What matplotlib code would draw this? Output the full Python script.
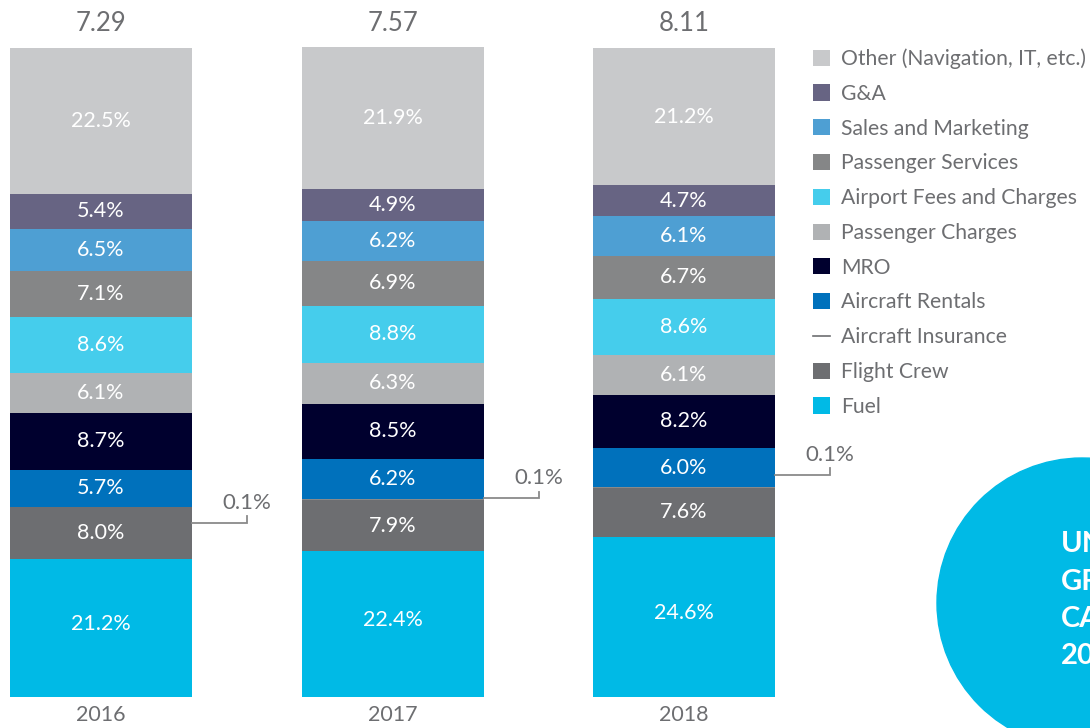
import matplotlib.pyplot as plt
from matplotlib.patches import Circle
from matplotlib.lines import Line2D
from matplotlib.patches import Patch
import numpy as np

plt.rcParams['font.family'] = ['Lato', 'DejaVu Sans']

years = ['2016', '2017', '2018']
totals = ['7.29', '7.57', '8.11']

# bottom to top
categories = ['Fuel', 'Flight Crew', 'Aircraft Insurance', 'Aircraft Rentals', 'MRO',
              'Passenger Charges', 'Airport Fees and Charges', 'Passenger Services',
              'Sales and Marketing', 'G&A', 'Other (Navigation, IT, etc.)']
fuel = [21.2, 22.4, 24.6]
flight_crew = [8.0, 7.9, 7.6]
insurance = [0.1, 0.1, 0.1]
rentals = [5.7, 6.2, 6.0]
mro = [8.7, 8.5, 8.2]
pax_charges = [6.1, 6.3, 6.1]
airport_fees = [8.6, 8.8, 8.6]
pax_services = [7.1, 6.9, 6.7]
sales = [6.5, 6.2, 6.1]
ga = [5.4, 4.9, 4.7]
other = [22.5, 21.9, 21.2]

series = [fuel, flight_crew, insurance, rentals, mro, pax_charges,
          airport_fees, pax_services, sales, ga, other]
colors = ['#00BAE6', '#6D6E71', '#8A8A8A', '#0071BC', '#00002E', '#B0B2B4',
          '#45CDEC', '#858687', '#4E9FD3', '#676483', '#C8C9CB']

gray = '#6D6E71'

fig = plt.figure(figsize=(10.9, 7.28), dpi=100)
# axes mapped so bars sit where they do in the reference
ax = fig.add_axes([0, 31 / 728, 1, 650 / 728])
unit = 291.5
ax.set_xlim(-101 / unit, (1090 - 101) / unit)
ax.set_ylim(0, 100)
ax.axis('off')

x = np.arange(len(years))
width = 182 / unit
bottom = np.zeros(len(years))
for vals, col, name in zip(series, colors, categories):
    ax.bar(x, vals, width, bottom=bottom, color=col, linewidth=0)
    if name != 'Aircraft Insurance':
        for i, v in enumerate(vals):
            off = 0.6 if name == 'Fuel' else 0
            ax.text(x[i], bottom[i] + v / 2 + off, f'{v:.1f}%', ha='center', va='center',
                    color='white', fontsize=15.5)
    bottom += np.array(vals)

for i in range(len(years)):
    ax.text(x[i], 100 + 3.6, totals[i], ha='center', va='center', color=gray, fontsize=18.5)
    ax.text(x[i], -2.7, years[i], ha='center', va='center', color=gray, fontsize=15.5)

# leader lines for the thin insurance slice
leader_y = [26.8, 30.6, 34.2]
lead_len = 55 / unit
for i in range(len(years)):
    x0 = x[i] + width / 2
    x1 = x0 + lead_len
    y0 = leader_y[i]
    ax.plot([x0, x1, x1], [y0, y0, y0 + 1.0], color='#8A8A8A', lw=1.3,
            solid_joinstyle='miter', clip_on=False)
    ax.text(x1, y0 + 3.1, f'{insurance[i]:.1f}%', ha='center', va='center',
            color=gray, fontsize=16)

# legend (top to bottom)
handles = []
for name, col in zip(categories[::-1], colors[::-1]):
    if name == 'Aircraft Insurance':
        handles.append(Line2D([0], [0], color='#6D6E71', lw=1.2))
    else:
        handles.append(Patch(facecolor=col, edgecolor='none'))
leg = fig.legend(handles, categories[::-1], loc='upper left',
                 bbox_to_anchor=(805 / 1090, 1 - 40 / 728), frameon=False,
                 fontsize=15.2, labelcolor=gray, handlelength=0.8, handleheight=0.8,
                 handletextpad=0.5, labelspacing=0.7, borderaxespad=0)

# decorative circle at the bottom right
circ = Circle((1082, 728 - 603), 145, transform=None, color='#00BAE6', zorder=0)
fig.patches.append(circ)
for k, word in enumerate(['UN', 'GR', 'CA', '20']):
    fig.text(1061 / 1090, 1 - (544 + 37.5 * k) / 728, word, ha='left', va='center',
             color='white', fontsize=21, fontweight='bold')

fig.savefig('out.png', dpi=100)
